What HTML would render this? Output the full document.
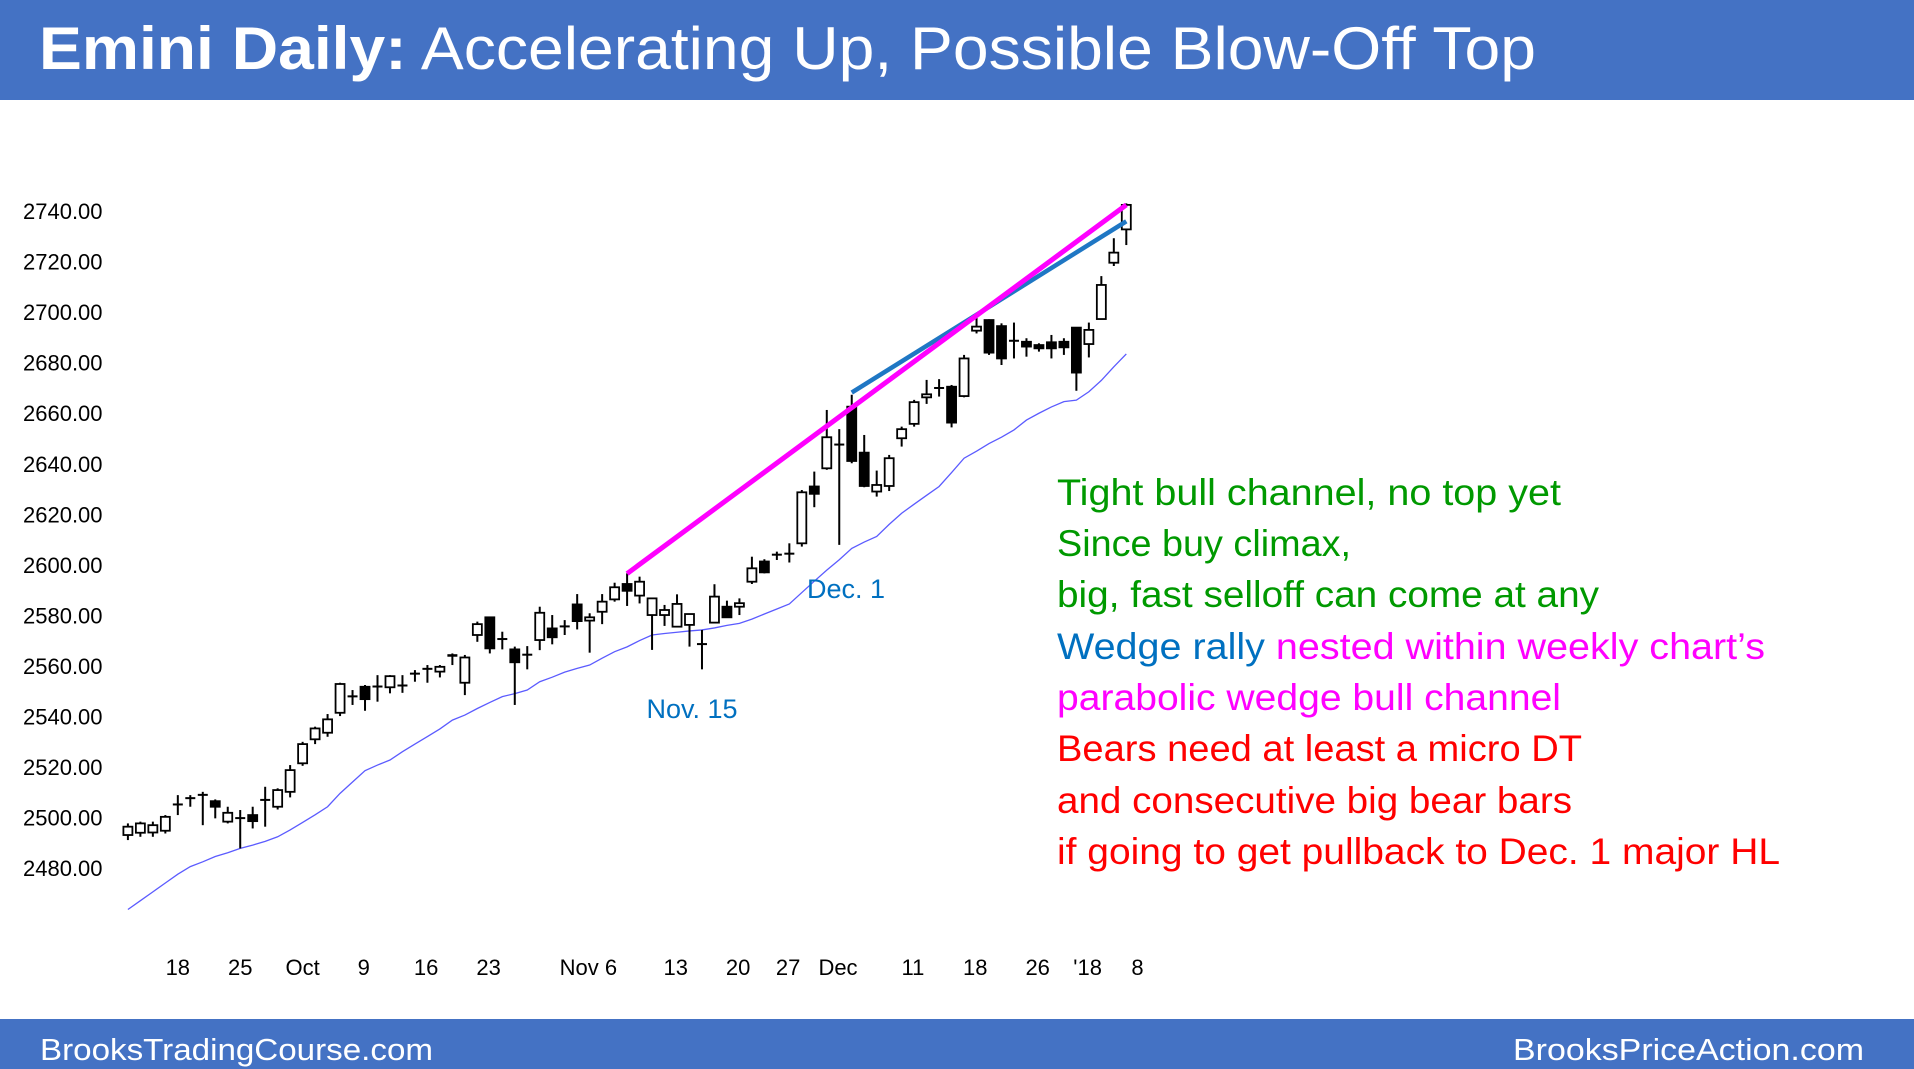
<!DOCTYPE html>
<html><head><meta charset="utf-8"><style>
html,body{margin:0;padding:0;background:#fff;}
svg{display:block;}
text{font-family:"Liberation Sans",sans-serif;}
</style></head><body>
<svg id="chart" width="1914" height="1069" viewBox="0 0 1914 1069" xmlns="http://www.w3.org/2000/svg">
<rect x="0" y="0" width="1914" height="100" fill="#4472C4"/>
<text x="39" y="69" font-size="60" fill="#fff" textLength="1497" lengthAdjust="spacingAndGlyphs"><tspan font-weight="bold">Emini Daily:</tspan> Accelerating Up, Possible Blow-Off Top</text>
<rect x="0" y="1019" width="1914" height="50" fill="#4472C4"/>
<text x="40" y="1060" font-size="31" fill="#fff" textLength="393" lengthAdjust="spacingAndGlyphs">BrooksTradingCourse.com</text>
<text x="1864" y="1060" font-size="31" fill="#fff" text-anchor="end" textLength="351" lengthAdjust="spacingAndGlyphs">BrooksPriceAction.com</text>
<g id="axes"></g>
<g id="ma"></g>
<g id="bars"></g>
<g id="lines"></g>
<g font-size="37">
<text x="692" y="718" font-size="27" fill="#0070C0" text-anchor="middle">Nov. 15</text>
<text x="846" y="598" font-size="27" fill="#0070C0" text-anchor="middle">Dec. 1</text>
<text x="1057" y="505" fill="#009900" textLength="504" lengthAdjust="spacingAndGlyphs">Tight bull channel, no top yet</text>
<text x="1057" y="556" fill="#009900" textLength="294" lengthAdjust="spacingAndGlyphs">Since buy climax,</text>
<text x="1057" y="607" fill="#009900" textLength="542" lengthAdjust="spacingAndGlyphs">big, fast selloff can come at any</text>
<text x="1057" y="659" textLength="708" lengthAdjust="spacingAndGlyphs"><tspan fill="#0070C0">Wedge rally </tspan><tspan fill="#FF00FF">nested within weekly chart’s</tspan></text>
<text x="1057" y="710" fill="#FF00FF" textLength="504" lengthAdjust="spacingAndGlyphs">parabolic wedge bull channel</text>
<text x="1057" y="761" fill="#FF0000" textLength="525" lengthAdjust="spacingAndGlyphs">Bears need at least a micro DT</text>
<text x="1057" y="813" fill="#FF0000" textLength="515" lengthAdjust="spacingAndGlyphs">and consecutive big bear bars</text>
<text x="1057" y="864" fill="#FF0000" textLength="723" lengthAdjust="spacingAndGlyphs">if going to get pullback to Dec. 1 major HL</text>
</g>
</svg>
<script>
const opens=[2493.0,2493.9,2494.0,2494.7,2504.5,2507.3,2508.6,2506.4,2498.3,2499.4,2500.9,2506.6,2504.2,2510.1,2521.4,2530.9,2533.5,2541.4,2547.6,2551.7,2551.5,2551.5,2551.9,2557.0,2558.5,2557.7,2564.3,2553.3,2572.2,2579.2,2570.3,2566.5,2564.1,2570.2,2574.8,2575.3,2584.3,2577.9,2581.4,2586.3,2592.4,2587.8,2580.1,2580.1,2575.5,2576.2,2568.3,2577.1,2583.4,2583.4,2593.3,2601.3,2603.7,2604.1,2608.5,2631.0,2638.2,2647.3,2662.6,2644.4,2629.0,2631.2,2650.1,2655.8,2666.3,2669.7,2670.5,2666.8,2692.7,2696.9,2694.5,2688.4,2688.3,2687.0,2688.1,2688.3,2693.9,2687.4,2697.3,2719.6,2732.8];
const highs=[2497.6,2498.3,2498.3,2500.9,2508.8,2508.8,2510.1,2507.1,2504.2,2502.9,2504.2,2512.1,2511.5,2520.7,2529.9,2535.9,2540.9,2553.3,2550.4,2552.4,2556.3,2556.3,2556.3,2558.3,2560.3,2560.3,2564.9,2564.3,2577.5,2579.4,2573.5,2567.6,2567.8,2583.4,2580.1,2578.1,2588.4,2580.8,2588.4,2592.9,2596.6,2595.3,2586.7,2584.1,2588.3,2580.5,2574.2,2592.3,2585.8,2586.7,2603.2,2602.2,2605.2,2608.5,2629.6,2636.9,2661.3,2653.7,2667.3,2651.4,2637.3,2643.5,2654.7,2665.3,2673.2,2673.5,2671.2,2683.1,2698.2,2697.2,2695.6,2695.9,2689.7,2687.7,2691.0,2689.7,2693.9,2695.9,2714.3,2729.3,2743.1];
const lows=[2491.0,2492.3,2492.3,2493.6,2500.9,2504.2,2496.9,2499.6,2497.6,2487.7,2495.6,2496.3,2503.1,2507.9,2520.4,2529.0,2531.9,2540.1,2544.5,2542.2,2545.8,2549.1,2549.3,2553.7,2553.3,2555.4,2560.3,2548.4,2569.5,2564.9,2566.5,2544.5,2558.6,2566.2,2568.5,2572.2,2574.4,2565.2,2576.5,2585.4,2583.7,2584.7,2566.3,2575.8,2575.3,2567.6,2558.6,2577.1,2579.2,2580.1,2592.4,2596.6,2601.9,2600.9,2607.2,2622.8,2637.6,2607.9,2640.2,2630.7,2627.0,2629.2,2646.8,2654.7,2663.7,2666.6,2654.4,2666.3,2691.6,2683.1,2679.1,2681.7,2682.4,2684.4,2681.7,2683.1,2668.9,2682.1,2697.3,2718.3,2726.6];
const closes=[2496.3,2497.6,2496.9,2500.2,2505.2,2507.7,2509.0,2504.2,2501.8,2499.8,2498.5,2507.0,2510.8,2518.7,2529.0,2535.2,2538.8,2552.8,2548.0,2546.8,2551.9,2555.9,2552.3,2556.3,2558.9,2559.6,2563.3,2563.3,2576.5,2566.9,2570.7,2561.4,2564.5,2581.0,2571.3,2575.7,2577.7,2579.2,2585.4,2591.1,2589.7,2593.3,2586.7,2582.1,2584.5,2580.5,2568.7,2587.4,2579.2,2584.8,2598.6,2597.0,2604.1,2604.5,2628.7,2628.1,2650.5,2647.7,2641.1,2631.2,2631.6,2642.2,2653.7,2664.4,2667.5,2670.1,2656.3,2681.7,2694.3,2684.0,2681.7,2688.8,2686.4,2685.7,2685.7,2686.1,2676.1,2693.0,2710.8,2723.6,2742.5];
const maValues=[2463.5,2467,2470.5,2474,2477.5,2480.5,2482.4,2484.5,2486,2487.7,2489,2490.5,2492.3,2495,2498,2501,2504.2,2509.5,2514,2518.5,2520.7,2522.7,2526,2529,2532,2535,2538.5,2540.5,2543.1,2545.5,2547.8,2549,2550.4,2553.7,2555.5,2557.5,2559,2560.3,2563,2565.6,2567.5,2570,2572.2,2572.8,2573.3,2573.8,2574.2,2575,2576,2576.8,2578.5,2580.5,2582.5,2584.5,2589,2593.5,2597.9,2602,2606.5,2609,2611.2,2616,2620.4,2624,2627.5,2631,2636.5,2642.2,2645,2648,2650.5,2653.4,2657.3,2660,2662.5,2664.6,2665.2,2668.5,2673,2678.4,2683.5];
const yTicks=[2740,2720,2700,2680,2660,2640,2620,2600,2580,2560,2540,2520,2500,2480];
const dateLabels=["18","25","Oct","9","16","23","Nov 6","13","20","27","Dec","11","18","26","'18","8"];
const dateBarIdx=[4,9,14,18.9,23.9,28.9,36.9,43.9,48.9,52.9,56.9,62.9,67.9,72.9,76.9,80.9];
const magentaLine=[[40,2596.5],[80,2742.5]];
const blueLine=[[58,2668.2],[80,2736.0]];

const NS="http://www.w3.org/2000/svg";
const x=i=>127.9+i*12.48;
const y=p=>211.2+(2740-p)*2.5256;
function mk(tag,attrs,parent){const e=document.createElementNS(NS,tag);for(const k in attrs)e.setAttribute(k,attrs[k]);parent.appendChild(e);return e;}
const axes=document.getElementById('axes');
yTicks.forEach(v=>{
  const t=mk('text',{x:23,y:y(v)+8,'font-size':22,fill:'#000'},axes);
  
  
  t.textContent=v.toFixed(2);
});
dateLabels.forEach((d,k)=>{
  const t=mk('text',{x:x(dateBarIdx[k]),y:975,'font-size':22,fill:'#000','text-anchor':'middle'},axes);
  
  
  t.textContent=d;
});
const ma=document.getElementById('ma');
const ml=mk('polyline',{points:maValues.map((v,i)=>x(i)+','+y(v)).join(' '),fill:'none',stroke:'#5B5BFF','stroke-width':1.3},ma);


const bars=document.getElementById('bars');
opens.forEach((o,i)=>{
  const c=closes[i],h=highs[i],l=lows[i],cx=x(i);
  const g=mk('g',{},bars);
  
  
  mk('line',{x1:cx,x2:cx,y1:y(h),y2:y(l),stroke:'#000','stroke-width':2},g);
  const top=y(Math.max(o,c)),bot=y(Math.min(o,c));
  const hh=Math.max(bot-top,1.5);
  if(hh<3){mk('rect',{x:cx-5,y:top-0.75,width:10,height:Math.max(hh,2),fill:'#000'},g);}
  else mk('rect',{x:cx-4.5,y:top,width:9,height:hh,fill:c>=o?'#fff':'#000',stroke:'#000','stroke-width':1.8},g);
});
const lines=document.getElementById('lines');
const bl=mk('line',{x1:x(blueLine[0][0]),y1:y(blueLine[0][1]),x2:x(blueLine[1][0]),y2:y(blueLine[1][1]),stroke:'#1F77C4','stroke-width':4.5},lines);


const mg=mk('line',{x1:x(magentaLine[0][0]),y1:y(magentaLine[0][1]),x2:x(magentaLine[1][0]),y2:y(magentaLine[1][1]),stroke:'#FF00FF','stroke-width':5},lines);


</script>
</body></html>
